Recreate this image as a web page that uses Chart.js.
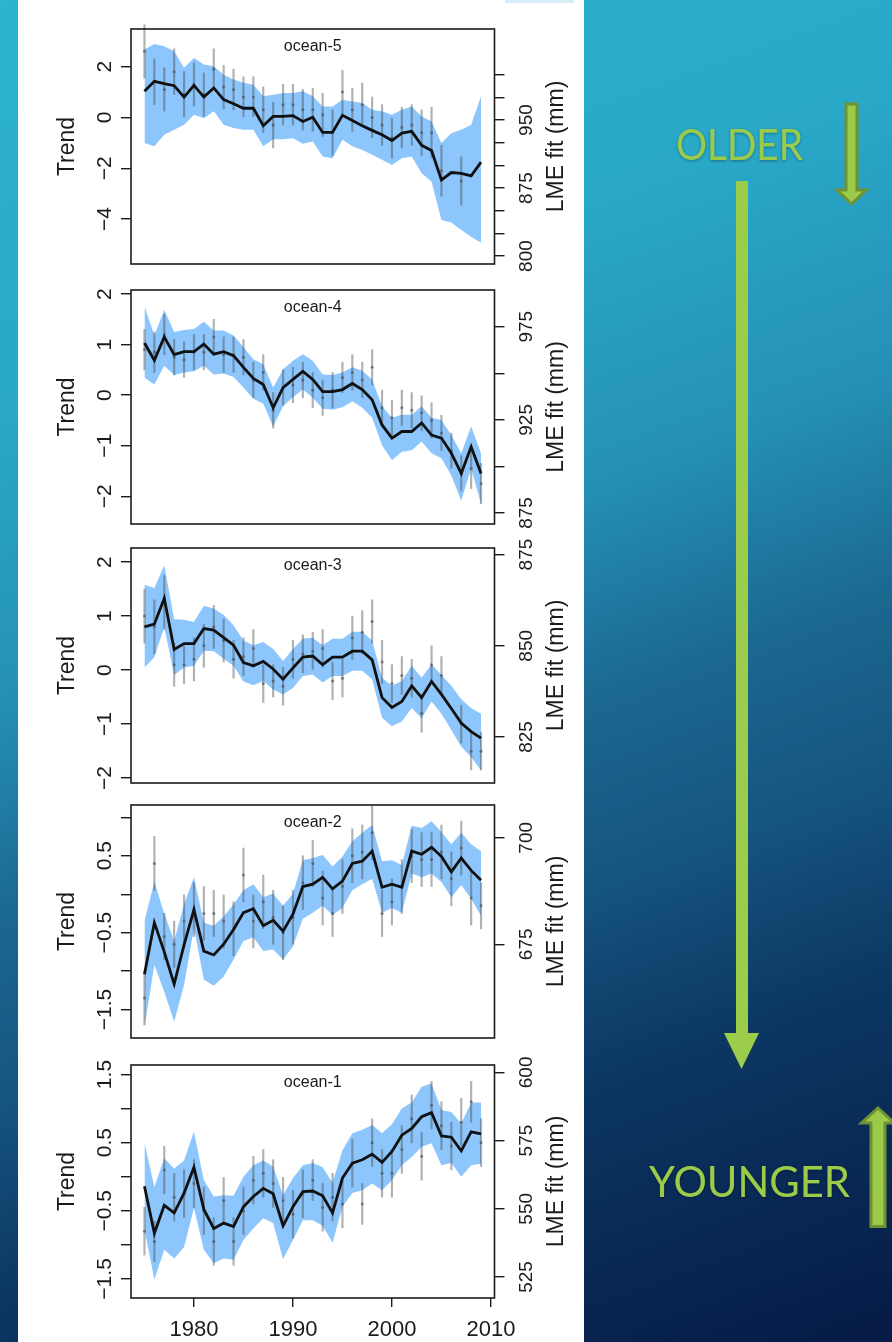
<!DOCTYPE html>
<html>
<head>
<meta charset="utf-8">
<script src="https://cdn.jsdelivr.net/npm/chart.js@4.4.1/dist/chart.umd.min.js"></script>
<style>
  html, body { margin: 0; padding: 0; }
  body {
    width: 892px; height: 1342px; overflow: hidden; position: relative;
    background: linear-gradient(160deg, #2cb3cf 0%, #29a8c7 25%, #2590b5 42%, #1b6891 55%, #15557f 66%, #0c3763 78%, #051a45 100%);
    font-family: "Liberation Sans", Arial, sans-serif;
  }
  #sheet { position: absolute; left: 18px; top: 0; width: 566px; height: 1342px; background: #fff; }
  #tab { position: absolute; left: 505px; top: 0; width: 69px; height: 3px; background: #d6ecf7; }
  .panel { position: absolute; left: 18px; width: 566px; }
  #deco { position: absolute; left: 0; top: 0; }
</style>
</head>
<body>
<div id="sheet"></div>
<div id="tab"></div>
<div class="panel" id="p5"><canvas></canvas></div>
<div class="panel" id="p4"><canvas></canvas></div>
<div class="panel" id="p3"><canvas></canvas></div>
<div class="panel" id="p2"><canvas></canvas></div>
<div class="panel" id="p1"><canvas></canvas></div>

<svg id="deco" width="892" height="1342" viewBox="0 0 892 1342">
  <defs>
    <filter id="shade" x="-10%" y="-20%" width="120%" height="140%">
      <feDropShadow dx="0" dy="1" stdDeviation="1.5" flood-color="#000" flood-opacity="0.35"/>
    </filter>
  </defs>
  <text x="676" y="160" font-family="Lato, 'Open Sans', sans-serif" font-size="43" fill="#9ccb4a"
        textLength="127" lengthAdjust="spacingAndGlyphs" filter="url(#shade)">OLDER</text>
  <text x="649" y="1197" font-family="Lato, 'Open Sans', sans-serif" font-size="43" fill="#9ccb4a"
        textLength="201" lengthAdjust="spacingAndGlyphs" filter="url(#shade)">YOUNGER</text>
  <polygon points="736,181 748,181 748,1033 759,1033 741.5,1069 724,1033 736,1033" fill="#9ccd4a"/>
  <polygon points="846,104 857,104 857,190 866,190 851.5,204 837,190 846,190"
           fill="#9ccb4a" stroke="#6f9233" stroke-width="3"/>
  <polygon points="878,1108 894.5,1123 885,1123 885,1226.5 871,1226.5 871,1123 861.5,1123"
           fill="#9ccb4a" stroke="#6f9233" stroke-width="3"/>
</svg>

<script>
// ======= Data =======
const years = [1975,1976,1977,1978,1979,1980,1981,1982,1983,1984,1985,1986,1987,1988,1989,1990,1991,1992,
  1993,1994,1995,1996,1997,1998,1999,2000,2001,2002,2003,2004,2005,2006,2007,2008,2009];
const xTicks = [1980, 1990, 2000, 2010];

// ocean-5
const fit5 = [1.03,1.42,1.33,1.25,0.80,1.26,0.80,1.16,0.70,0.54,0.36,0.36,-0.33,0.04,0.04,0.07,-0.16,0.01,-0.59,-0.59,0.08,-0.12,-0.33,-0.51,-0.68,-0.91,-0.62,-0.55,-1.10,-1.30,-2.46,-2.17,-2.20,-2.30,-1.76];
const hi5 = [2.67,2.89,2.80,2.60,1.95,2.34,2.08,2.01,1.68,1.49,1.36,1.29,0.83,0.89,0.96,0.96,1.03,0.83,0.43,0.43,0.70,0.63,0.57,0.30,0.24,0.10,0.30,0.43,0.04,-0.16,-1.01,-0.62,-0.49,-0.29,0.83];
const lo5 = [-1.01,-1.14,-0.68,-0.49,-0.29,0.10,-0.03,0.24,-0.29,-0.42,-0.49,-0.49,-1.14,-0.86,-0.86,-0.82,-1.04,-0.95,-1.54,-1.61,-0.88,-1.14,-1.28,-1.47,-1.67,-1.87,-1.61,-1.54,-2.20,-2.53,-4.04,-4.14,-4.43,-4.70,-4.93];
const obs5 = [2.6,1.4,1.1,1.8,0.9,1.3,0.9,1.9,1.2,1.1,0.8,0.8,0.3,-0.3,0.5,0.5,0.3,0.3,0.1,-0.6,1.0,0.3,0.5,0.0,-0.3,-0.8,-0.4,-0.3,-0.6,-0.6,-2.1,null,-2.5,null,null];
const err5 = [1.05,0.9,0.85,0.9,0.9,0.85,0.85,0.8,0.85,0.8,0.8,0.8,0.9,0.9,0.8,0.8,0.8,0.85,0.85,0.9,0.85,0.85,0.85,0.8,0.8,0.8,0.8,0.8,0.9,1.0,1.0,null,0.95,null,null];
const left5 = [-4, -2, 0, 2];
const leftLab5 = ['\u22124', '\u22122', '0', '2'];
const right5 = [800, 825, 850, 875, 900, 925, 950, 975, 1000];
const rightLab5 = ['800', '', '', '875', '', '', '950', '', ''];

// ocean-4
const fit4 = [1.03,0.69,1.15,0.80,0.86,0.86,1.01,0.81,0.86,0.78,0.55,0.33,0.21,-0.25,0.15,0.31,0.47,0.31,0.07,0.07,0.11,0.23,0.11,-0.09,-0.59,-0.85,-0.72,-0.72,-0.55,-0.79,-0.85,-1.15,-1.55,-1.02,-1.55];
const hi4 = [1.76,1.18,1.69,1.25,1.29,1.31,1.45,1.28,1.28,1.18,0.95,0.71,0.61,0.15,0.51,0.68,0.81,0.68,0.41,0.40,0.45,0.55,0.48,0.31,-0.22,-0.45,-0.39,-0.39,-0.22,-0.45,-0.49,-0.79,-1.15,-0.62,-1.15];
const lo4 = [0.35,0.21,0.58,0.40,0.45,0.47,0.58,0.41,0.43,0.36,0.15,-0.07,-0.17,-0.62,-0.22,-0.04,0.11,-0.05,-0.27,-0.29,-0.24,-0.12,-0.25,-0.45,-0.99,-1.29,-1.12,-1.09,-0.92,-1.15,-1.25,-1.59,-2.09,-1.45,-2.15];
const obs4 = [0.9,0.85,1.2,0.75,0.7,0.85,0.85,1.15,0.8,0.8,0.75,0.3,0.45,-0.3,0.15,0.2,0.3,0.1,-0.05,0.1,0.35,0.45,0.3,0.55,-0.25,-0.45,-0.25,-0.3,-0.35,-0.5,-0.75,-1.1,-1.55,-1.45,-1.75];
const err4 = [0.4,0.4,0.4,0.35,0.35,0.35,0.35,0.35,0.35,0.35,0.35,0.35,0.35,0.35,0.35,0.35,0.35,0.35,0.35,0.35,0.3,0.35,0.35,0.35,0.35,0.35,0.35,0.35,0.35,0.35,0.35,0.35,0.35,0.4,0.4];
const left4 = [-2, -1, 0, 1, 2];
const leftLab4 = ['\u22122', '\u22121', '0', '1', '2'];
const right4 = [875, 900, 925, 950, 975];
const rightLab4 = ['875', '', '925', '', '975'];

// ocean-3
const fit3 = [0.80,0.85,1.33,0.38,0.49,0.49,0.77,0.74,0.60,0.46,0.14,0.08,0.16,0.02,-0.17,0.04,0.24,0.26,0.10,0.24,0.24,0.35,0.35,0.19,-0.51,-0.69,-0.58,-0.29,-0.51,-0.21,-0.45,-0.71,-0.98,-1.14,-1.26];
const hi3 = [1.58,1.52,1.94,0.94,0.93,0.89,1.19,1.14,1.02,0.83,0.55,0.46,0.52,0.39,0.17,0.39,0.58,0.60,0.46,0.58,0.58,0.71,0.71,0.55,-0.14,-0.29,-0.20,0.08,-0.14,0.11,-0.09,-0.29,-0.54,-0.70,-0.81];
const lo3 = [0.05,0.24,0.80,-0.09,0.05,0.08,0.36,0.35,0.21,0.08,-0.21,-0.28,-0.20,-0.36,-0.45,-0.33,-0.11,-0.08,-0.23,-0.11,-0.11,-0.01,-0.01,-0.17,-0.88,-1.04,-0.95,-0.70,-0.89,-0.58,-0.81,-1.11,-1.42,-1.61,-1.86];
const obs3 = [1.0,0.8,1.25,0.1,0.1,0.2,0.45,0.8,0.55,0.2,0.25,0.4,-0.25,-0.2,-0.3,0.2,0.3,0.35,0.4,-0.2,-0.15,0.6,0.7,0.9,0.15,-0.25,-0.1,-0.15,-0.8,0.1,-0.1,null,-1.0,-1.5,-1.5];
const err3 = [0.5,0.5,0.5,0.4,0.35,0.4,0.4,0.4,0.4,0.35,0.35,0.35,0.35,0.3,0.35,0.35,0.35,0.35,0.35,0.35,0.35,0.4,0.4,0.4,0.4,0.35,0.35,0.35,0.35,0.35,0.35,null,0.35,0.35,0.35];
const left3 = [-2, -1, 0, 1, 2];
const leftLab3 = ['\u22122', '\u22121', '0', '1', '2'];
const right3 = [825, 850, 875];
const rightLab3 = ['825', '850', '875'];

// ocean-2
const fit2 = [-1.04,-0.37,-0.75,-1.17,-0.66,-0.20,-0.74,-0.79,-0.65,-0.46,-0.24,-0.19,-0.41,-0.34,-0.48,-0.26,0.10,0.13,0.22,0.07,0.17,0.40,0.43,0.56,0.09,0.13,0.09,0.56,0.52,0.61,0.49,0.29,0.47,0.31,0.18];
const hi2 = [-0.35,0.16,-0.25,-0.61,-0.13,0.22,-0.37,-0.41,-0.29,-0.13,0.05,0.13,-0.04,0.01,-0.15,0.01,0.44,0.47,0.51,0.36,0.49,0.69,0.80,0.90,0.43,0.44,0.38,0.89,0.86,0.95,0.81,0.65,0.80,0.65,0.56];
const lo2 = [-1.73,-0.92,-1.27,-1.66,-1.18,-0.44,-1.11,-1.19,-1.07,-0.85,-0.61,-0.56,-0.74,-0.72,-0.85,-0.68,-0.32,-0.24,-0.15,-0.27,-0.18,0.05,0.13,0.20,-0.24,-0.18,-0.24,0.27,0.22,0.27,0.16,-0.04,0.12,-0.06,-0.28];
const obs2 = [-1.35,0.4,-0.55,-0.65,-0.35,-0.2,-0.25,-0.25,-0.35,-0.45,0.25,-0.35,-0.1,-0.3,-0.5,-0.3,0.15,0.4,-0.05,-0.25,0.1,0.5,0.55,0.8,-0.25,-0.1,0.1,0.5,0.45,0.45,0.55,0.2,0.6,-0.05,-0.15];
const err2 = [0.35,0.35,0.3,0.3,0.35,0.35,0.35,0.3,0.35,0.35,0.35,0.35,0.35,0.35,0.35,0.35,0.35,0.3,0.35,0.3,0.35,0.35,0.35,0.35,0.3,0.3,0.35,0.35,0.35,0.35,0.35,0.35,0.35,0.35,0.3];
const left2 = [-1.5, -1, -0.5, 0, 0.5, 1];
const leftLab2 = ['\u22121.5', '', '\u22120.5', '', '0.5', ''];
const right2 = [675, 700];
const rightLab2 = ['675', '700'];

// ocean-1
const fit1 = [-0.14,-0.83,-0.42,-0.53,-0.24,0.14,-0.48,-0.76,-0.68,-0.73,-0.44,-0.29,-0.17,-0.25,-0.72,-0.44,-0.22,-0.21,-0.28,-0.53,-0.02,0.20,0.25,0.33,0.21,0.37,0.61,0.71,0.88,0.94,0.60,0.58,0.38,0.66,0.63];
const hi1 = [0.50,-0.15,0.27,0.12,0.24,0.66,-0.05,-0.29,-0.27,-0.28,0.00,0.17,0.24,0.15,-0.27,-0.02,0.17,0.20,0.14,-0.09,0.39,0.64,0.69,0.76,0.64,0.77,1.00,1.09,1.32,1.37,0.98,0.95,0.78,1.09,1.09];
const lo1 = [-0.78,-1.51,-1.07,-1.20,-1.03,-0.46,-1.07,-1.27,-1.20,-1.22,-0.93,-0.76,-0.61,-0.68,-1.21,-0.93,-0.64,-0.64,-0.72,-0.97,-0.44,-0.24,-0.20,-0.10,-0.20,-0.05,0.17,0.29,0.44,0.49,0.17,0.20,0.00,0.17,0.19];
const obs1 = [-0.8,-0.95,0.1,-0.3,-0.25,-0.1,-0.5,-0.95,-0.35,-0.95,-0.5,-0.05,0.05,-0.1,-0.35,-0.55,-0.25,-0.05,-0.45,-0.3,-0.4,0.2,-0.4,0.5,0.05,0.05,0.4,0.85,0.3,1.05,0.75,0.45,0.8,1.1,0.5];
const err1 = [0.35,0.3,0.35,0.35,0.35,0.35,0.35,0.35,0.35,0.35,0.35,0.35,0.35,0.35,0.35,0.35,0.35,0.3,0.35,0.35,0.35,0.35,0.3,0.35,0.35,0.35,0.35,0.35,0.35,0.35,0.35,0.35,0.35,0.3,0.35];
const left1 = [-1.5, -1, -0.5, 0, 0.5, 1, 1.5];
const leftLab1 = ['\u22121.5', '', '\u22120.5', '', '0.5', '', '1.5'];
const right1 = [525, 550, 575, 600];
const rightLab1 = ['525', '550', '575', '600'];

// ======= Look =======
const INK = '#1b1b1b';
const BAND = '#8cc6fc';
const FONT = '"Liberation Sans", Arial, sans-serif';
const X_MIN = 1973.64, X_MAX = 2010.36;

const panels = [
  {id: 'p5', name: 'ocean-5', top: 29, bottom: 264, yMin: -5.77, yMax: 3.48, rMin: 791.2, rMax: 1050.5,
   fit: fit5, hi: hi5, lo: lo5, obs: obs5, err: err5, left: left5, leftLab: leftLab5, right: right5, rightLab: rightLab5},
  {id: 'p4', name: 'ocean-4', top: 290, bottom: 524, yMin: -2.55, yMax: 2.08, rMin: 869.1, rMax: 994.7,
   fit: fit4, hi: hi4, lo: lo4, obs: obs4, err: err4, left: left4, leftLab: leftLab4, right: right4, rightLab: rightLab4},
  {id: 'p3', name: 'ocean-3', top: 548, bottom: 783, yMin: -2.09, yMax: 2.26, rMin: 812.4, rMax: 876.8,
   fit: fit3, hi: hi3, lo: lo3, obs: obs3, err: err3, left: left3, leftLab: leftLab3, right: right3, rightLab: rightLab3},
  {id: 'p2', name: 'ocean-2', top: 805, bottom: 1038, yMin: -1.87, yMax: 1.16, rMin: 653.0, rMax: 707.7,
   fit: fit2, hi: hi2, lo: lo2, obs: obs2, err: err2, left: left2, leftLab: leftLab2, right: right2, rightLab: rightLab2},
  {id: 'p1', name: 'ocean-1', top: 1065, bottom: 1298, yMin: -1.78, yMax: 1.64, rMin: 517.3, rMax: 602.7, showX: true,
   fit: fit1, hi: hi1, lo: lo1, obs: obs1, err: err1, left: left1, leftLab: leftLab1, right: right1, rightLab: rightLab1}
];

function pts(arr) {
  return years.map((x, i) => ({x, y: arr[i]}));
}

function rotLabel(ctx, text, x, y) {
  ctx.save();
  ctx.translate(x, y);
  ctx.rotate(-Math.PI / 2);
  ctx.fillText(text, 0, 0);
  ctx.restore();
}

function makePanel(p) {
  const wrap = document.getElementById(p.id);
  const padTop = 12;
  const padBottom = p.showX ? 0 : 10;
  const xAxisH = p.showX ? 44 : 0;
  wrap.style.top = (p.top - padTop) + 'px';
  wrap.style.height = (p.bottom - p.top + padTop + padBottom + xAxisH) + 'px';

  const bars = [], dots = [];
  years.forEach((x, i) => {
    if (p.obs[i] === null) return;
    bars.push({x, y: [p.obs[i] - p.err[i], p.obs[i] + p.err[i]]});
    dots.push({x, y: p.obs[i]});
  });

  // box + rotated labels like base R
  const frame = {
    id: 'frame',
    afterDatasetsDraw(chart) {
      const a = chart.chartArea, ctx = chart.ctx;
      ctx.save();
      ctx.strokeStyle = INK;
      ctx.lineWidth = 1.6;
      ctx.strokeRect(a.left, a.top, a.right - a.left, a.bottom - a.top);
      ctx.restore();
    },
    afterDraw(chart) {
      const a = chart.chartArea, ctx = chart.ctx;
      const ys = chart.scales.y, rs = chart.scales.y1, xs = chart.scales.x;
      const midY = (a.top + a.bottom) / 2;
      ctx.save();
      ctx.fillStyle = INK;
      ctx.textAlign = 'center';
      ctx.textBaseline = 'alphabetic';

      ctx.font = '21px ' + FONT;
      p.left.forEach((v, i) => {
        if (p.leftLab[i]) rotLabel(ctx, p.leftLab[i], a.left - 20.5, ys.getPixelForValue(v));
      });
      ctx.font = '19px ' + FONT;
      p.right.forEach((v, i) => {
        if (p.rightLab[i]) rotLabel(ctx, p.rightLab[i], a.right + 37.5, rs.getPixelForValue(v));
      });

      ctx.font = '23px ' + FONT;
      rotLabel(ctx, 'Trend', a.left - 57.5, midY);
      rotLabel(ctx, 'LME fit (mm)', a.right + 68.5, midY);

      ctx.font = '16px ' + FONT;
      ctx.fillText(p.name, (a.left + a.right) / 2, a.top + 22.4);

      if (p.showX) {
        ctx.font = '22px ' + FONT;
        xTicks.forEach(v => ctx.fillText(String(v), xs.getPixelForValue(v), a.bottom + 38.4));
      }
      ctx.restore();
    }
  };

  const tickGrid = len => ({drawOnChartArea: false, drawTicks: true, tickLength: len, color: INK, lineWidth: 1.4, offset: false});

  new Chart(wrap.querySelector('canvas'), {
    type: 'line',
    data: {
      datasets: [
        {label: 'upper', data: pts(p.hi), fill: '+1', backgroundColor: BAND, borderWidth: 0, pointRadius: 0, order: 4},
        {label: 'lower', data: pts(p.lo), fill: false, borderWidth: 0, pointRadius: 0, order: 3},
        {type: 'bar', label: 'obs range', data: bars, backgroundColor: 'rgba(70,70,70,0.42)',
         borderWidth: 0, barThickness: 1.5, order: 2, clip: false},
        {label: 'obs', data: dots, showLine: false, pointRadius: 1.5, borderWidth: 0,
         pointBackgroundColor: 'rgba(70,70,70,0.6)', order: 1},
        {label: 'fit', data: pts(p.fit), borderColor: '#111', borderWidth: 2.8, pointRadius: 0,
         fill: false, tension: 0, order: 0}
      ]
    },
    options: {
      responsive: true,
      maintainAspectRatio: false,
      animation: false,
      events: [],
      layout: {padding: {top: padTop, bottom: padBottom, left: 0, right: 0}},
      plugins: {legend: {display: false}, tooltip: {enabled: false}},
      scales: {
        x: {
          type: 'linear', min: X_MIN, max: X_MAX, offset: false, bounds: 'data', display: !!p.showX,
          afterBuildTicks: s => { s.ticks = xTicks.map(v => ({value: v})); },
          afterFit: s => { s.height = xAxisH; },
          grid: tickGrid(9), border: {display: false}, ticks: {display: false}
        },
        y: {
          position: 'left', min: p.yMin, max: p.yMax, bounds: 'data',
          afterBuildTicks: s => { s.ticks = p.left.map(v => ({value: v})); },
          afterFit: s => { s.width = 113; },
          grid: tickGrid(10), border: {display: false}, ticks: {display: false}
        },
        y1: {
          position: 'right', min: p.rMin, max: p.rMax, bounds: 'data',
          afterBuildTicks: s => { s.ticks = p.right.map(v => ({value: v})); },
          afterFit: s => { s.width = 89.5; },
          grid: tickGrid(10), border: {display: false}, ticks: {display: false}
        }
      }
    },
    plugins: [frame]
  });
}

panels.forEach(makePanel);
</script>
</body>
</html>
